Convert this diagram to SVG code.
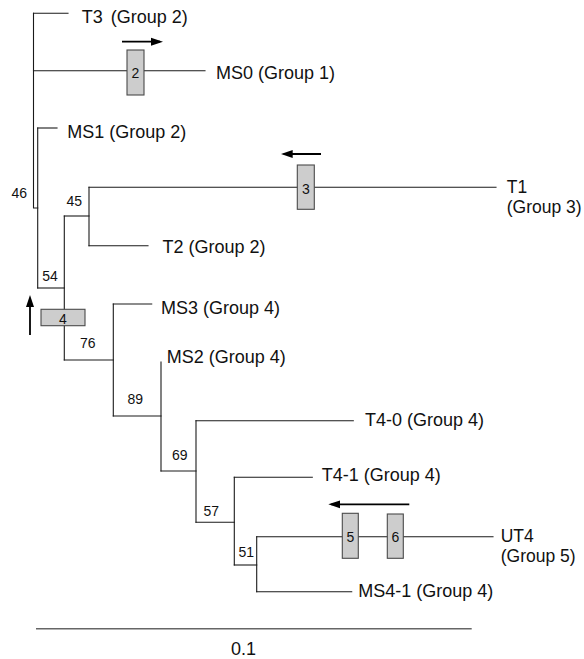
<svg xmlns="http://www.w3.org/2000/svg" width="584" height="659" viewBox="0 0 584 659">
<style>
  .lbl { font-family: "Liberation Sans", Arial, sans-serif; font-size: 18px; fill: #111; }
  .lbl2 { font-family: "Liberation Sans", Arial, sans-serif; font-size: 17.5px; fill: #111; }
  .bs { font-family: "Liberation Sans", Arial, sans-serif; font-size: 14px; fill: #111; }
  .bx { font-family: "Liberation Sans", Arial, sans-serif; font-size: 14px; fill: #111; text-anchor: middle; }
  .br { stroke: #1a1a1a; stroke-width: 1.1; fill: none; stroke-linecap: square; }
  .box { fill: #cdcdcd; stroke: #4a4a4a; stroke-width: 1.1; }
  .arr { stroke: #000; stroke-width: 1.8; fill: none; marker-end: url(#ah); }
  .scale { stroke: #666; stroke-width: 1.4; }
</style>
<defs>
  <marker id="ah" markerUnits="userSpaceOnUse" markerWidth="12" markerHeight="10" viewBox="0 0 12 10" refX="9" refY="5" orient="auto">
    <path d="M0,1 L12,5 L0,9 Z" fill="#000"/>
  </marker>
</defs>

<g id="connectors">
  <path class="br" d="M33.5,13.3 V208 H37.7"/>
  <path class="br" d="M33.5,13.3 H68"/>
  <path class="br" d="M33.5,70.7 H205"/>
  <path class="br" d="M37.7,128 V288"/>
  <path class="br" d="M37.7,128 H57"/>
  <path class="br" d="M37.7,288 H64.3"/>
  <path class="br" d="M64.3,216 V360"/>
  <path class="br" d="M64.3,216 H89"/>
  <path class="br" d="M64.3,360 H113.3"/>
  <path class="br" d="M89,187.3 V245.7"/>
  <path class="br" d="M89,187.3 H496"/>
  <path class="br" d="M89,245.7 H148"/>
  <path class="br" d="M113.3,304 V416"/>
  <path class="br" d="M113.3,304 H151.7"/>
  <path class="br" d="M113.3,416 H161"/>
  <path class="br" d="M161,362 V471"/>
  <path class="br" d="M161,471 H196"/>
  <path class="br" d="M196,420.7 V522.3"/>
  <path class="br" d="M196,420.7 H353.3"/>
  <path class="br" d="M196,522.3 H234.3"/>
  <path class="br" d="M234.3,477.3 V565"/>
  <path class="br" d="M234.3,477.3 H312.3"/>
  <path class="br" d="M234.3,565 H256.7"/>
  <path class="br" d="M256.7,536.7 V591.7"/>
  <path class="br" d="M256.7,536.7 H493"/>
  <path class="br" d="M256.7,591.7 H351.7"/>
</g>

<g id="markers">
  <g id="box2">
    <rect class="box" x="127" y="50" width="17" height="45"/>
    <text class="bx" x="135.5" y="78">2</text>
    <path class="arr" d="M122,41.7 H160"/>
  </g>
  <g id="box3">
    <rect class="box" x="297.3" y="165" width="17" height="44.3"/>
    <text class="bx" x="305.8" y="194">3</text>
    <path class="arr" d="M321,154 H283.7"/>
  </g>
  <g id="box4">
    <rect class="box" x="41" y="309.3" width="44" height="16.4"/>
    <text class="bx" x="63" y="323.5">4</text>
    <path class="arr" d="M30,335 V298"/>
  </g>
  <g id="box56">
    <rect class="box" x="342.3" y="513.3" width="16" height="45"/>
    <text class="bx" x="350.3" y="542">5</text>
    <rect class="box" x="387.3" y="514" width="16" height="44.3"/>
    <text class="bx" x="395.3" y="542">6</text>
    <path class="arr" d="M409.3,504.3 H331.3"/>
  </g>
</g>

<g id="leaf-T3"><text class="lbl" x="81.7" y="22.8">T3<tspan x="110.7">(Group 2)</tspan></text></g>
<g id="leaf-MS0"><text class="lbl" x="216" y="78.5">MS0 (Group 1)</text></g>
<g id="leaf-MS1"><text class="lbl" x="67.3" y="137.5">MS1 (Group 2)</text></g>
<g id="leaf-T1"><text class="lbl2" x="506.7" y="193">T1</text><text class="lbl2" x="506.7" y="213">(Group 3)</text></g>
<g id="leaf-T2"><text class="lbl" x="162.5" y="253">T2 (Group 2)</text></g>
<g id="leaf-MS3"><text class="lbl" x="161" y="313.5">MS3 (Group 4)</text></g>
<g id="leaf-MS2"><text class="lbl" x="166.7" y="363">MS2 (Group 4)</text></g>
<g id="leaf-T4-0"><text class="lbl" x="365" y="425.5">T4-0 (Group 4)</text></g>
<g id="leaf-T4-1"><text class="lbl" x="321.7" y="480.5">T4-1 (Group 4)</text></g>
<g id="leaf-UT4"><text class="lbl2" x="500.7" y="542">UT4</text><text class="lbl2" x="500.7" y="562">(Group 5)</text></g>
<g id="leaf-MS4-1"><text class="lbl" x="358.3" y="597.3">MS4-1 (Group 4)</text></g>

<g id="bootstrap">
  <text class="bs" x="11.5" y="198.3">46</text>
  <text class="bs" x="66.5" y="205.7">45</text>
  <text class="bs" x="42.3" y="280.7">54</text>
  <text class="bs" x="80" y="348.3">76</text>
  <text class="bs" x="127.5" y="404.3">89</text>
  <text class="bs" x="172" y="460">69</text>
  <text class="bs" x="203.5" y="516">57</text>
  <text class="bs" x="238.5" y="556.7">51</text>
</g>

<g id="scale-bar">
  <line class="scale" x1="36" y1="628.8" x2="471.7" y2="628.8"/>
  <text class="lbl" x="231" y="655">0.1</text>
</g>
</svg>
